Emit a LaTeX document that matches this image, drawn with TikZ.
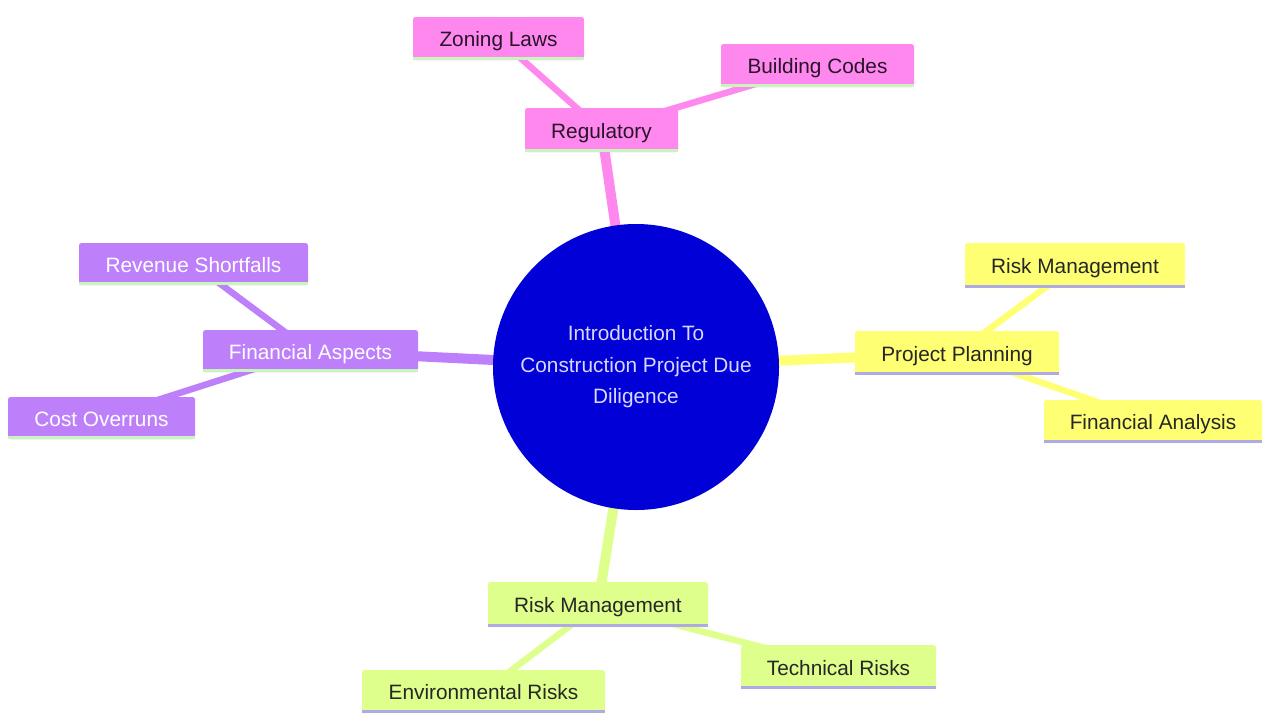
\documentclass[tikz,border=0pt]{standalone}
\usepackage{fontspec}
\setmainfont{Liberation Sans}
\usetikzlibrary{backgrounds}
\definecolor{cblue}{RGB}{0,0,215}
\definecolor{ctext}{RGB}{215,215,255}
\definecolor{cpink}{RGB}{255,136,238}
\definecolor{cpurple}{RGB}{190,128,250}
\definecolor{cyellow}{RGB}{255,255,115}
\definecolor{cgreen}{RGB}{222,255,140}
\definecolor{lgreen}{RGB}{200,245,190}
\definecolor{lav}{RGB}{175,170,230}
\definecolor{darktxt}{RGB}{40,20,40}
\tikzset{
  box/.style={rectangle, rounded corners=2.5pt, inner sep=0pt, font=\fontsize{20.8}{24}\selectfont, align=center, minimum height=44pt, text height=17.5pt, text depth=0.6pt},
  pinkbox/.style={box, fill=cpink, text=darktxt},
  purplebox/.style={box, fill=cpurple, text=white},
  yellowbox/.style={box, fill=cyellow, text=black!85},
  greenbox/.style={box, fill=cgreen, text=black!85},
  mainedge/.style={line width=10pt},
  subedge/.style={line width=6.5pt},
  underline/.style={line width=3pt}
}
\begin{document}
\begin{tikzpicture}[x=1pt,y=-1pt]
\useasboundingbox (0,0) rectangle (1263,715);
% center
\node[circle, fill=cblue, text=ctext, minimum size=286pt, inner sep=0pt, align=center,
      font=\fontsize{20.8}{31.5}\selectfont] (c) at (636,367)
  {Introduction To\\Construction Project Due\\Diligence};
% regulatory
\node[pinkbox, minimum width=153pt] (reg) at (601.5,130) {Regulatory};
\node[pinkbox, minimum width=171pt, minimum height=43pt] (zon) at (498.5,38.5) {Zoning Laws};
\node[pinkbox, minimum width=193pt, minimum height=43pt] (bld) at (817.5,65.5) {Building Codes};
% financial
\node[purplebox, minimum width=215pt, minimum height=42pt] (fin) at (310.5,351) {Financial Aspects};
\node[purplebox, minimum width=229pt, minimum height=42pt] (rev) at (193.5,264) {Revenue Shortfalls};
\node[purplebox, minimum width=187pt, minimum height=42pt] (cost) at (101.5,418) {Cost Overruns};
% project planning
\node[yellowbox, minimum width=204pt] (pp) at (957,353) {Project Planning};
\node[yellowbox, minimum width=220pt, minimum height=45pt] (rmr) at (1075,265.5) {Risk Management};
\node[yellowbox, minimum width=218pt, minimum height=43pt] (fa) at (1153,421.5) {Financial Analysis};
% risk management
\node[greenbox, minimum width=220pt, minimum height=45pt] (rmb) at (598,604.5) {Risk Management};
\node[greenbox, minimum width=243pt, minimum height=43pt] (env) at (483.5,691.5) {Environmental Risks};
\node[greenbox, minimum width=195pt] (tech) at (838.5,667) {Technical Risks};
% underlines
\foreach \n in {reg,zon,bld,fin,rev,cost}
  \draw[underline, lgreen] ([yshift=1.5pt]\n.south west) -- ([yshift=1.5pt]\n.south east);
\foreach \n in {pp,rmr,fa,rmb,env,tech}
  \draw[underline, lav] ([yshift=1.5pt]\n.south west) -- ([yshift=1.5pt]\n.south east);
% edges
\begin{scope}[on background layer]
\fill[white] (0,0) rectangle (1263,715);
\draw[mainedge, cpink] (reg.center) -- (c.center);
\draw[subedge, cpink] (zon.center) -- (reg.center);
\draw[subedge, cpink] (bld.center) -- (reg.center);
\draw[mainedge, cpurple] (fin.center) -- (c.center);
\draw[subedge, cpurple] (rev.center) -- (fin.center);
\draw[subedge, cpurple] (cost.center) -- (fin.center);
\draw[mainedge, cyellow] (pp.center) -- (c.center);
\draw[subedge, cyellow] (rmr.center) -- (pp.center);
\draw[subedge, cyellow] (fa.center) -- (pp.center);
\draw[mainedge, cgreen] (rmb.center) -- (c.center);
\draw[subedge, cgreen] (env.center) -- (rmb.center);
\draw[subedge, cgreen] (tech.center) -- (rmb.center);
\end{scope}
\end{tikzpicture}
\end{document}
